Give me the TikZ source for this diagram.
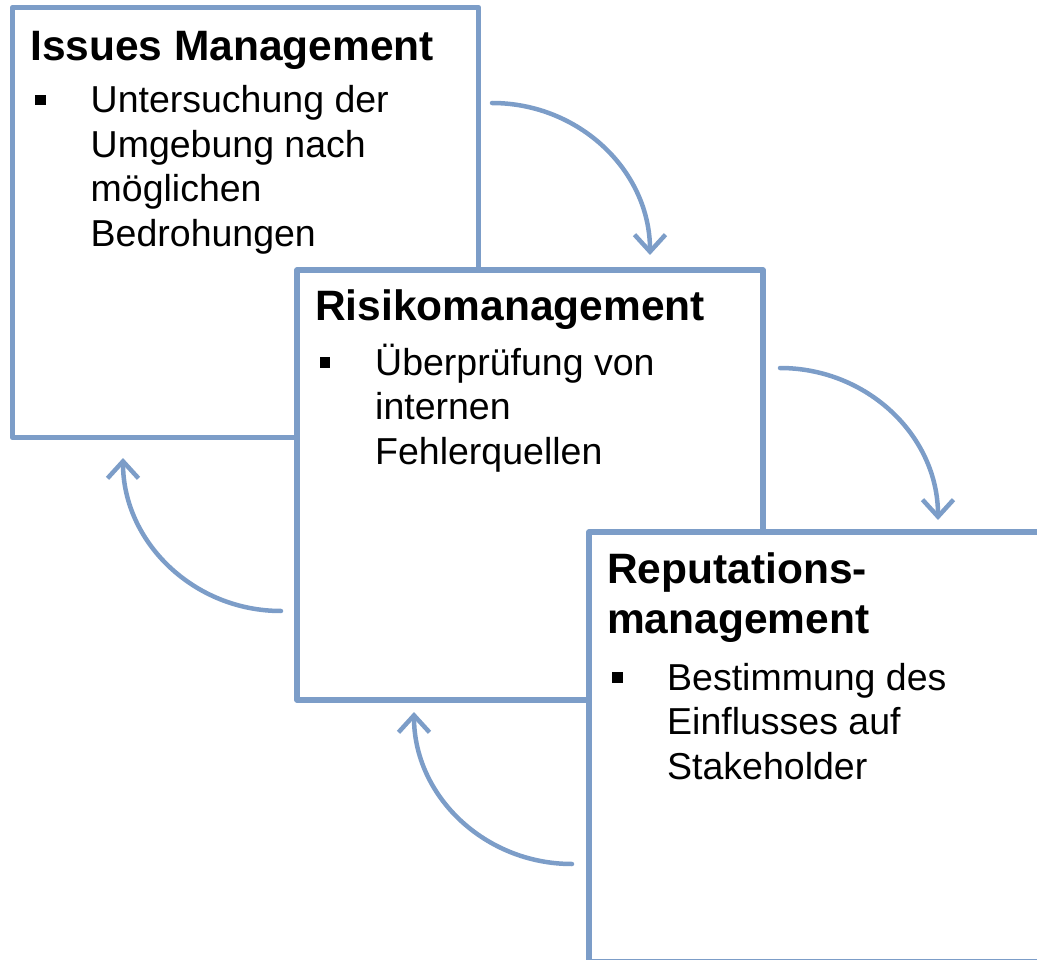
\documentclass[tikz,border=0pt]{standalone}
\usepackage{fontspec}
\setmainfont{Liberation Sans}
\usetikzlibrary{arrows.meta}
\definecolor{frame}{RGB}{124,157,200}
\begin{document}
\begin{tikzpicture}[x=1pt,y=-1pt,
 box/.style={draw=frame, line width=5.5pt, fill=white, rectangle, minimum width=466pt, minimum height=430pt, anchor=north west, outer sep=0pt, inner sep=0pt, line join=round},
 boxtitle/.style={anchor=base west, inner sep=0pt, font=\fontsize{42.5}{50}\selectfont\bfseries},
 boxtext/.style={anchor=base west, inner sep=0pt, font=\fontsize{37.5}{44.5}\selectfont},
 bulletsq/.style={fill=black, minimum size=10.5pt, inner sep=0pt, outer sep=0pt},
 flow/.style={draw=frame, line width=4.5pt, line cap=round, -{Straight Barb[length=17pt,width=31pt]}}
]
\useasboundingbox (0,0) rectangle (1037,960);
\clip (0,0) rectangle (1037,960);

% box 1
\node[box] (b1) at (12.5,7.5) {};
\node[boxtitle] (t1) at (30,61) {Issues Management};
\node[bulletsq] (p1) at (40.5,100) {};
\node[boxtext] (l11) at (90.5,113) {Untersuchung der};
\node[boxtext] (l12) at (90.5,157.5) {Umgebung nach};
\node[boxtext] (l13) at (90.5,202) {möglichen};
\node[boxtext] (l14) at (90.5,246.5) {Bedrohungen};

% box 2
\node[box] (b2) at (297,270) {};
\node[boxtitle] (t2) at (315,321) {Risikomanagement};
\node[bulletsq] (p2) at (325,362.5) {};
\node[boxtext] (l21) at (375,375) {Überprüfung von};
\node[boxtext] (l22) at (375,419.5) {internen};
\node[boxtext] (l23) at (375,464) {Fehlerquellen};

% box 3
\node[box] (b3) at (589,532) {};
\node[boxtitle] (t31) at (607,583) {Reputations-};
\node[boxtitle] (t32) at (607,633) {management};
\node[bulletsq] (p3) at (617.5,677.5) {};
\node[boxtext] (l31) at (667,690) {Bestimmung des};
\node[boxtext] (l32) at (667,734.5) {Einflusses auf};
\node[boxtext] (l33) at (667,779) {Stakeholder};

% arrows
\coordinate (a1s) at (492,103);
\coordinate (a1e) at (650,255);
\draw[flow] (a1s) .. controls (579.3,103) and (650,171) .. (a1e);

\coordinate (a2s) at (780,368);
\coordinate (a2e) at (938,520);
\draw[flow] (a2s) .. controls (867.3,368) and (938,436) .. (a2e);

\coordinate (a3s) at (281,611);
\coordinate (a3e) at (123,458);
\draw[flow] (a3s) .. controls (193.7,611) and (123,542) .. (a3e);

\coordinate (a4s) at (572,864);
\coordinate (a4e) at (414,712);
\draw[flow] (a4s) .. controls (484.7,864) and (414,796) .. (a4e);
\end{tikzpicture}
\end{document}
